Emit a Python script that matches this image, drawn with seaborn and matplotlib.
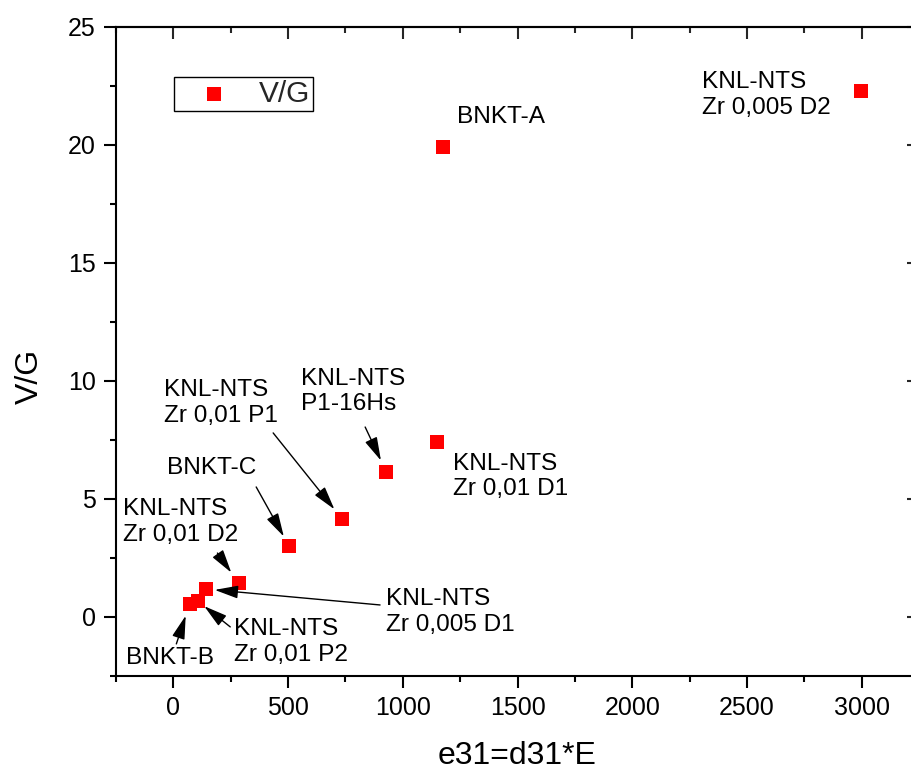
import matplotlib
matplotlib.use("Agg")
import matplotlib.pyplot as plt
import seaborn as sns
import pandas as pd
from matplotlib.ticker import MultipleLocator

# values
samples = ["KNL-NTS\nZr 0,005 D2", "BNKT-A", "KNL-NTS\nZr 0,01 D1", "KNL-NTS\nP1-16Hs",
           "KNL-NTS\nZr 0,01 P1", "BNKT-C", "KNL-NTS\nZr 0,01 D2", "KNL-NTS\nZr 0,005 D1",
           "KNL-NTS\nZr 0,01 P2", "BNKT-B"]
e31 = [2997, 1176, 1150, 928, 736, 505, 284, 144, 106, 71]
vg = [22.3, 19.9, 7.4, 6.15, 4.15, 3.0, 1.45, 1.18, 0.68, 0.56]

# where the labels sit (left edge, vertical centre) and where arrows start
label_xy = [(2304, 22.12), (1237, 21.19), (1219, 5.95), (557, 9.55), (-39, 9.07),
            (-26, 6.31), (-218, 4.03), (928, 0.21), (266, -1.06), (-205, -1.74)]
arrow_from = [None, None, None, (836, 8.05), (435, 7.80), (361, 5.51), (192, 2.71),
              (901, 0.51), (248, -0.42), (13, -1.14)]
arrow_shrink = [0, 0, 0, 9, 9, 8, 9, 6, 6, 9]

sns.set_theme(style="ticks")
plt.rcParams["font.family"] = ["Liberation Sans", "DejaVu Sans"]

df = pd.DataFrame({"e31": e31, "VG": vg, "sample": samples})

fig = plt.figure(figsize=(9.11, 7.76), dpi=100)
ax = fig.add_axes([116 / 911, 100 / 776, 803 / 911, 649 / 776])
sns.scatterplot(data=df, x="e31", y="VG", marker="s", color="red", s=88,
                linewidth=0, label="V/G", ax=ax, zorder=3)

ax.set_xlim(-250, 3250)
ax.set_ylim(-2.5, 25)
ax.xaxis.set_major_locator(MultipleLocator(500))
ax.xaxis.set_minor_locator(MultipleLocator(250))
ax.yaxis.set_major_locator(MultipleLocator(5))
ax.yaxis.set_minor_locator(MultipleLocator(2.5))
ax.tick_params(which="major", direction="out", length=8.6, width=1.5, labelsize=18,
               color="black", labelcolor="black", pad=6)
ax.tick_params(which="minor", direction="out", length=4.3, width=1.5, color="black")
for s in ax.spines.values():
    s.set_visible(True)
    s.set_linewidth(1.5)
    s.set_color("black")

top = ax.secondary_xaxis("top")
top.xaxis.set_major_locator(MultipleLocator(500))
top.xaxis.set_minor_locator(MultipleLocator(250))
top.tick_params(which="major", direction="in", length=8.6, width=1.5, labeltop=False)
top.tick_params(which="minor", direction="in", length=4.3, width=1.5)
top.spines["top"].set_linewidth(1.5)
right = ax.secondary_yaxis("right")
right.yaxis.set_major_locator(MultipleLocator(5))
right.yaxis.set_minor_locator(MultipleLocator(2.5))
right.tick_params(which="major", direction="in", length=8.6, width=1.5, labelright=False)
right.tick_params(which="minor", direction="in", length=4.3, width=1.5)
right.spines["right"].set_linewidth(1.5)

ax.set_xlabel("e31=d31*E", fontsize=23, color="black")
ax.set_ylabel("V/G", fontsize=23, color="black")
ax.xaxis.set_label_coords(0.5, -0.1)
ax.yaxis.set_label_coords(-0.089, 0.462)

for i, name in enumerate(samples):
    ax.text(label_xy[i][0], label_xy[i][1], name, fontsize=17.6, ha="left", va="center",
            linespacing=1.22, color="black")
    if arrow_from[i] is not None:
        ax.annotate("", xy=(e31[i], vg[i]), xytext=arrow_from[i],
                    arrowprops=dict(arrowstyle="-|>,head_length=0.8,head_width=0.22",
                                    mutation_scale=18, color="black", lw=1,
                                    shrinkA=0, shrinkB=arrow_shrink[i]))

leg = ax.legend(loc="upper left", bbox_to_anchor=(0.0722, 0.923), borderaxespad=0,
                fontsize=21.5, frameon=True, fancybox=False, edgecolor="black",
                framealpha=1, borderpad=0.1, handlelength=2.5, handletextpad=0.25)
leg.get_frame().set_linewidth(1)

fig.savefig("out.png", dpi=100)
